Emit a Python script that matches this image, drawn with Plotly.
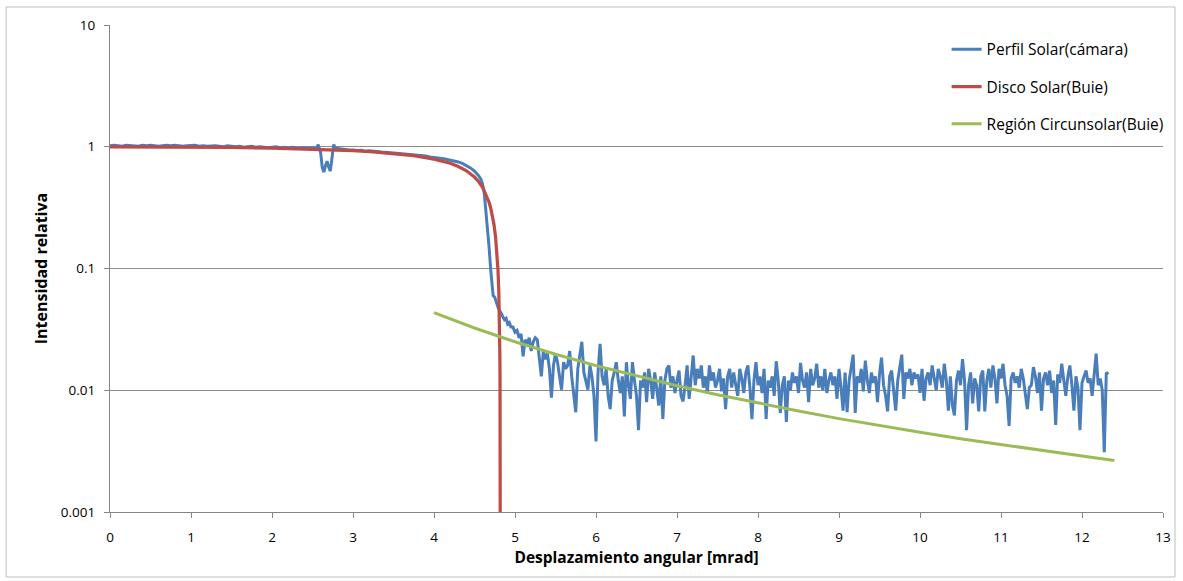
import plotly.graph_objects as go

# ---------------- data ----------------
# Perfil Solar (cámara) - flat part, x = 0 .. 2.5 step 0.05
blue_flat_x0 = 0.0
blue_flat_dx = 0.05
blue_flat_y = [1.02, 1.03, 1.02, 1.01, 1.03, 1.02, 1.02, 1.01, 1.03, 1.02,
               1.03, 1.02, 1.01, 1.02, 1.03, 1.02, 1.03, 1.02, 1.01, 1.02,
               1.02, 1.03, 1.01, 1.02, 1.01, 1.02, 1.02, 1.01, 1.00, 1.02,
               1.01, 1.00, 1.01, 0.99, 1.00, 1.01, 0.99, 1.00, 0.99, 0.98,
               0.99, 1.00, 0.98, 0.99, 0.98, 0.99, 0.98, 0.97, 0.98, 0.97, 0.98]

# dip, shoulder and fall of the measured profile
blue_mid_x = [2.55, 2.57, 2.60, 2.62, 2.64, 2.66, 2.68, 2.70, 2.72, 2.74, 2.76, 2.79,
              2.85, 2.90, 2.95, 3.00, 3.05, 3.10, 3.15, 3.20, 3.25, 3.30, 3.35, 3.40,
              3.45, 3.50, 3.55, 3.60, 3.65, 3.70, 3.75, 3.80, 3.85, 3.90, 3.95, 4.00,
              4.05, 4.10, 4.15, 4.20, 4.25, 4.30, 4.35, 4.40, 4.45, 4.50, 4.55, 4.58,
              4.60, 4.62, 4.64, 4.66, 4.68, 4.70, 4.72, 4.73, 4.75, 4.77, 4.79, 4.81,
              4.83, 4.85, 4.87, 4.89, 4.91, 4.93, 4.95]
blue_mid_y = [0.97, 1.04, 0.90, 0.68, 0.62, 0.70, 0.76, 0.68, 0.63, 0.80, 1.04, 0.97,
              0.955, 0.95, 0.94, 0.94, 0.93, 0.935, 0.92, 0.925, 0.915, 0.91, 0.905, 0.90,
              0.895, 0.89, 0.885, 0.88, 0.87, 0.865, 0.86, 0.85, 0.845, 0.84, 0.825, 0.82,
              0.81, 0.80, 0.79, 0.78, 0.76, 0.75, 0.73, 0.70, 0.67, 0.63, 0.58, 0.54,
              0.49, 0.42, 0.31, 0.21, 0.15, 0.098, 0.075, 0.060, 0.058, 0.052, 0.048, 0.045,
              0.043, 0.040, 0.038, 0.039, 0.035, 0.036, 0.033]

# noisy circumsolar tail, x = 4.975 .. step 0.025
blue_tail_x0 = 4.975
blue_tail_dx = 0.025
blue_tail_y = [
    0.033, 0.030, 0.031, 0.027, 0.029, 0.019, 0.026, 0.024, 0.027, 0.021,
    0.025, 0.027, 0.026, 0.018, 0.013, 0.021, 0.018, 0.020, 0.015, 0.0087,
    0.016, 0.020, 0.017, 0.013, 0.0101, 0.017, 0.015, 0.016, 0.021, 0.013,
    0.0095, 0.0066, 0.015, 0.019, 0.025, 0.014, 0.012, 0.0101, 0.016, 0.013,
    0.0090, 0.0038, 0.014, 0.024, 0.013, 0.011, 0.015, 0.0090, 0.0070, 0.012,
    0.014, 0.017, 0.012, 0.0095, 0.013, 0.0061, 0.017, 0.011, 0.0085, 0.017,
    0.012, 0.0090, 0.0047, 0.012, 0.0105, 0.014, 0.0080, 0.015, 0.012, 0.0085,
    0.014, 0.010, 0.0075, 0.013, 0.0058, 0.012, 0.0150, 0.016, 0.0105, 0.013,
    0.0095, 0.012, 0.0145, 0.0090, 0.0081, 0.011, 0.016, 0.0085, 0.013, 0.0193,
    0.011, 0.015, 0.0125, 0.016, 0.0105, 0.013, 0.0095, 0.016, 0.012, 0.014,
    0.0105, 0.012, 0.015, 0.0098, 0.0125, 0.0070, 0.013, 0.015, 0.0105, 0.014,
    0.011, 0.0090, 0.015, 0.0125, 0.0095, 0.014, 0.016, 0.0105, 0.0058, 0.012,
    0.017, 0.011, 0.013, 0.0095, 0.015, 0.0058, 0.012, 0.0105, 0.013, 0.0090,
    0.0173, 0.012, 0.0065, 0.011, 0.013, 0.0055, 0.012, 0.010, 0.014, 0.0115,
    0.013, 0.0095, 0.0168, 0.012, 0.0105, 0.014, 0.0080, 0.015, 0.011, 0.0125,
    0.0165, 0.0105, 0.013, 0.010, 0.015, 0.0095, 0.012, 0.014, 0.0110, 0.013,
    0.0085, 0.015, 0.0105, 0.0068, 0.014, 0.0066, 0.012, 0.016, 0.0196, 0.0065,
    0.013, 0.0115, 0.015, 0.0098, 0.0175, 0.012, 0.0095, 0.014, 0.0115, 0.013,
    0.0080, 0.0135, 0.0185, 0.011, 0.0090, 0.0067, 0.013, 0.0145, 0.0105, 0.0068,
    0.012, 0.0160, 0.0196, 0.0085, 0.014, 0.0125, 0.015, 0.011, 0.014, 0.0125,
    0.0135, 0.0095, 0.015, 0.0082, 0.0125, 0.014, 0.011, 0.016, 0.0125, 0.010,
    0.015, 0.013, 0.0105, 0.0165, 0.012, 0.0068, 0.013, 0.0075, 0.0062, 0.012,
    0.0145, 0.011, 0.0180, 0.012, 0.0047, 0.011, 0.014, 0.0078, 0.0125, 0.011,
    0.0067, 0.013, 0.0145, 0.0067, 0.012, 0.015, 0.0105, 0.016, 0.0125, 0.0078,
    0.015, 0.0125, 0.0165, 0.011, 0.0090, 0.0051, 0.0125, 0.0140, 0.0115, 0.0130,
    0.0105, 0.0150, 0.0125, 0.0090, 0.0070, 0.0105, 0.011, 0.0155, 0.013, 0.0095,
    0.014, 0.0068, 0.0125, 0.014, 0.0110, 0.0145, 0.0095, 0.012, 0.0052, 0.0135,
    0.0115, 0.0165, 0.0125, 0.0090, 0.013, 0.0160, 0.0110, 0.0068, 0.013, 0.0105,
    0.0047, 0.0115, 0.013, 0.0145, 0.0115, 0.0125, 0.0090, 0.013, 0.0200, 0.011,
    0.0125, 0.0100, 0.0031, 0.0140, 0.0135]

# Disco Solar (Buie)
red_x = [0, 0.5, 1.0, 1.5, 2.0, 2.5, 3.0, 3.25, 3.5, 3.75, 4.0, 4.1, 4.2, 4.3,
         4.4, 4.5, 4.55, 4.6, 4.65, 4.68, 4.7, 4.72, 4.74, 4.76, 4.78, 4.79,
         4.8, 4.805, 4.81, 4.813, 4.815, 4.817, 4.818, 4.8183]
red_y = [1.0, 0.9986, 0.9941, 0.9862, 0.9739, 0.9554, 0.9284, 0.9094, 0.8819,
         0.8448, 0.7919, 0.766, 0.7315, 0.689, 0.635, 0.5637, 0.518, 0.464, 0.397,
         0.3498, 0.314, 0.2747, 0.231, 0.1821, 0.1272, 0.0971, 0.0650, 0.0482,
         0.0307, 0.0199, 0.01266, 0.00525, 0.00146, 0.00035]

# Región Circunsolar (Buie)
green_x = [4.0, 4.5, 5.0, 5.5, 6.0, 6.5, 7.0, 7.5, 8.0, 8.5, 9.0, 9.5, 10.0,
           10.5, 11.0, 11.5, 12.0, 12.4]
green_y = [0.0434, 0.03245, 0.02501, 0.01977, 0.01594, 0.01308, 0.01089, 0.00919,
           0.00783, 0.00675, 0.00585, 0.00512, 0.00451, 0.00400, 0.00357, 0.00320,
           0.00288, 0.00265]

y_tickvals = [0.001, 0.01, 0.1, 1, 10]
y_ticktext = ["0.001", "0.01", "0.1", "1", "10"]

# ---------------- build ----------------
blue_x = ([round(blue_flat_x0 + blue_flat_dx * i, 3) for i in range(len(blue_flat_y))]
          + blue_mid_x
          + [round(blue_tail_x0 + blue_tail_dx * i, 3) for i in range(len(blue_tail_y))])
blue_y = blue_flat_y + blue_mid_y + blue_tail_y

FONT = "Open Sans"
fig = go.Figure()
fig.add_trace(go.Scatter(x=blue_x, y=blue_y, mode="lines", name="Perfil Solar(cámara)",
                         legendgroup="a", line=dict(color="#4a7ebb", width=3)))
fig.add_trace(go.Scatter(x=red_x, y=red_y, mode="lines", name="Disco Solar(Buie)",
                         legendgroup="b", line=dict(color="#be4b48", width=3.25)))
fig.add_trace(go.Scatter(x=green_x, y=green_y, mode="lines", name="Región Circunsolar(Buie)",
                         legendgroup="c", line=dict(color="#9bbb59", width=3)))

fig.update_layout(
    width=1183, height=581,
    margin=dict(l=110, r=18, t=25, b=69),
    paper_bgcolor="white", plot_bgcolor="white",
    font=dict(family=FONT, size=13, color="#000000"),
    showlegend=True,
    legend=dict(x=0.7945, y=0.984, xanchor="left", yanchor="top",
                font=dict(family=FONT, size=15.5, color="#000000"),
                tracegroupgap=14, bgcolor="rgba(0,0,0,0)"),
    xaxis=dict(range=[0, 13], dtick=1, tick0=0, showgrid=False, zeroline=False,
               showline=True, linecolor="#868686", linewidth=1,
               ticks="outside", ticklen=5, tickcolor="#868686",
               ticklabelstandoff=8,
               tickfont=dict(family=FONT, size=13.5),
               title=dict(text="<b>Desplazamiento angular [mrad]</b>",
                          font=dict(family=FONT, size=15.5), standoff=6)),
    yaxis=dict(type="log", range=[-3, 1], tickvals=y_tickvals, ticktext=y_ticktext,
               showgrid=True, gridcolor="#8c8c8c", gridwidth=1, zeroline=False,
               showline=True, linecolor="#868686", linewidth=1,
               ticks="outside", ticklen=5, tickcolor="#868686",
               ticklabelstandoff=6,
               tickfont=dict(family=FONT, size=13.5),
               title=dict(text="<b>Intensidad relativa</b>",
                          font=dict(family=FONT, size=16), standoff=9)),
    shapes=[dict(type="rect", xref="paper", yref="paper",
                 x0=-0.0986, x1=1.0114, y0=-0.1335, y1=1.037,
                 line=dict(color="#bfbfbf", width=1), fillcolor="rgba(0,0,0,0)",
                 layer="below")],
)

fig.write_html("out.html")
